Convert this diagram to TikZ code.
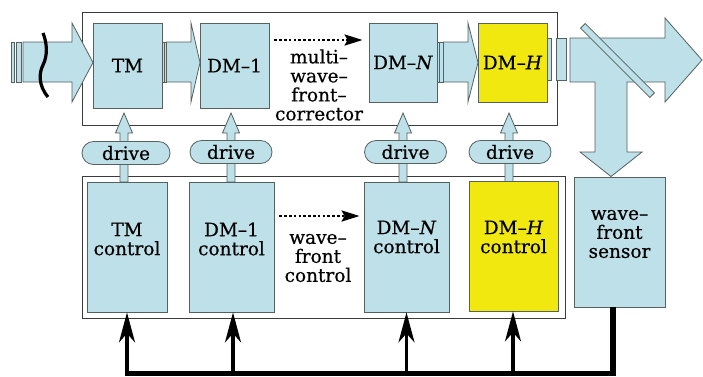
\documentclass[tikz,border=0pt]{standalone}
\usepackage{fontspec}
\setmainfont{DejaVu Serif}[FakeBold=0.5]
\usetikzlibrary{arrows.meta,calc,shapes.misc}
\definecolor{beamblue}{HTML}{BEE0E8}
\definecolor{mirrory}{HTML}{F0E80F}
\definecolor{edgegray}{HTML}{55605F}
\definecolor{framegray}{HTML}{3C3C3C}

% beam arrow between two optical units: #1 shaft start, #2 head base, #3 tip
\newcommand\beamarrow[3]{%
  \filldraw[optic] (#1,42) -- (#2,42) -- (#2,23) -- (#3,62.5) -- (#2,102) -- (#2,82) -- (#1,82) -- cycle;}
% thin plate in the beam path
\newcommand\plate[2]{\filldraw[optic] (#1,42) rectangle (#2,82);}
% drive signal arrow from a control unit up to its corrector
\newcommand\drivearrow[1]{%
  \filldraw[optic] (#1-4,182) -- (#1-4,133) -- (#1-8.5,133) -- (#1,113) -- (#1+8.5,133) -- (#1+4,133) -- (#1+4,182) -- cycle;}

\begin{document}
\begin{tikzpicture}[x=1pt,y=-1pt,
  font=\fontsize{18.5}{19}\selectfont,
  optic/.style={draw=edgegray, fill=beamblue, line width=0.8pt},
  unit/.style={optic, inner sep=0pt, align=center},
  outerframe/.style={draw=framegray, line width=0.8pt},
  pill/.style={optic, rounded rectangle, minimum width=82, minimum height=23, inner sep=0pt},
  txt/.style={align=center, inner sep=0pt},
  feed/.style={line width=3.2pt, black},
  feedarrow/.style={feed, -{Stealth[length=30pt,width=16pt,inset=9pt]}},
  dotarrow/.style={line width=2.6pt, dash pattern=on 2.6pt off 2.2pt, -{Stealth[length=18pt,width=11pt,inset=3pt]}}
]
\useasboundingbox (0,0) rectangle (703,376);
\fill[white] (0,0) rectangle (703,376);

% enclosing frames
\draw[outerframe] (82,12) rectangle (557,125);
\draw[outerframe] (82,176) rectangle (565,318);

% incoming beam
\plate{11}{14}
\plate{16}{21}
\beamarrow{23}{72}{93}
\draw[line width=3.2pt] (43,33) .. controls (47,43) and (48,55) .. (43,65)
  .. controls (39,73) and (38,85) .. (48,97);

% beams between correctors
\plate{162}{164}
\plate{164}{166.5}
\beamarrow{166.5}{191}{200}
\plate{437}{439.5}
\plate{439.5}{443.5}
\beamarrow{443.5}{468}{478}

% outgoing beam with branch to the sensor
\filldraw[optic] (547,38) rectangle (551,80);
\filldraw[optic] (556,38) rectangle (566,80);
\filldraw[optic] (570,38) -- (665,38) -- (665,18) -- (702,60) -- (665,102) -- (665,82)
  -- (627,82) -- (627,152) -- (642,152) -- (611,176.5) -- (580,152) -- (595,152)
  -- (595,82) -- (570,82) -- cycle;
\node[optic, minimum width=98, minimum height=6.5, inner sep=0pt, rotate=-45] (splitter) at (617.5,60.5) {};

% correctors
\node[unit, minimum width=69, minimum height=85] (tm) at (127.5,65.5) {TM};
\node[unit, minimum width=69, minimum height=85] (dm1) at (234.5,65.5) {DM–1};
\node[unit, minimum width=68, minimum height=79] (dmn) at (403,62.5) {DM–\textit{N}};
\node[unit, fill=mirrory, minimum width=69, minimum height=79] (dmh) at (512.5,62.5) {DM–\textit{H}};

\draw[dotarrow] ([shift={(5,-25.5)}]dm1.east) -- ([shift={(-6,-22.5)}]dmn.west);
\node[txt] (mwfc) at (319,85) {multi–\\wave–\\front–\\corrector};

% drive signals
\drivearrow{124}
\drivearrow{231}
\drivearrow{403}
\drivearrow{509}
\node[pill, minimum width=88] (drvtm) at (126,153) {drive};
\node[pill] (drv1) at (231,152) {drive};
\node[pill] (drvn) at (405.5,152) {drive};
\node[pill] (drvh) at (510,152) {drive};

% control units
\node[unit, minimum width=80, minimum height=130] (tmc) at (127,247) {};
\node[txt] (tmct) at ($(tmc.center)+(0,-8)$) {TM\\control};
\node[unit, minimum width=85, minimum height=130] (dm1c) at (231.5,247) {};
\node[txt] (dm1ct) at ($(dm1c.center)+(0,-8)$) {DM–1\\control};
\node[unit, minimum width=85, minimum height=130] (dmnc) at (406.5,247) {};
\node[txt] (dmnct) at ($(dmnc.center)+(0,-10)$) {DM–\textit{N}\\control};
\node[unit, fill=mirrory, minimum width=89, minimum height=130] (dmhc) at (513.5,246) {};
\node[txt] (dmhct) at ($(dmhc.center)+(0,-9)$) {DM–\textit{H}\\control};

\draw[dotarrow] ([shift={(5,-31)}]dm1c.east) -- ([shift={(-4,-31)}]dmnc.west);
\node[txt] (wfc) at (318,258) {wave–\\front\\control};

% sensor
\node[unit, minimum width=91, minimum height=130] (sensor) at (619.5,242) {};
\node[txt] (sensort) at ($(sensor.center)+(0,-8)$) {wave–\\front\\sensor};

% feedback from the sensor to every control unit
\coordinate (busL) at (125.5,373.5);
\coordinate (busR) at (616,373.5);
\draw[line width=6pt] ([xshift=-6.5pt]sensor.south) -- ++(0,68.8);
\draw[line width=4.5pt] (busL) -- (busR);
\draw[feedarrow] (tmc.south |- 0,375.7) -- (tmc.south);
\draw[feedarrow] ([xshift=1.5pt]dm1c.south |- 0,375.7) -- ([xshift=1.5pt]dm1c.south);
\draw[feedarrow] (dmnc.south |- 0,375.7) -- (dmnc.south);
\draw[feedarrow] ([xshift=-0.5pt]dmhc.south |- 0,375.7) -- ([xshift=-0.5pt]dmhc.south);
\end{tikzpicture}
\end{document}
